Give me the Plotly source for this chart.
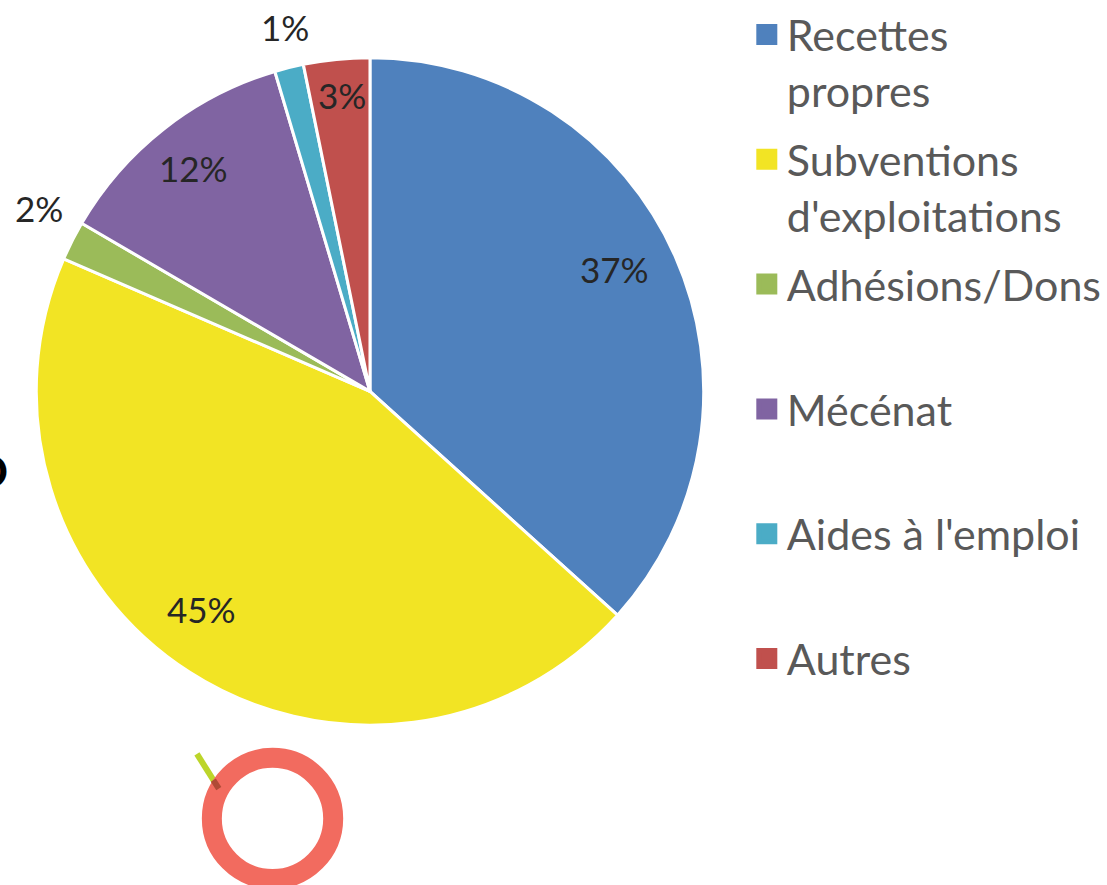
import math
import plotly.graph_objects as go

labels = ["Recettes propres", "Subventions d'exploitations", "Adhésions/Dons",
          "Mécénat", "Aides à l'emploi", "Autres"]
legend_labels = ["Recettes<br>propres", "Subventions<br>d'exploitations",
                 "Adhésions/Dons<br> ", "Mécénat<br> ", "Aides à l'emploi<br> ", "Autres<br> "]
values = [36.7, 44.8, 1.9, 12.0, 1.4, 3.2]
colors = ["#4F81BD", "#F2E424", "#9BBB59", "#8064A2", "#4BACC6", "#C0504D"]
# label placement (style): radius fraction and small angular nudge in degrees
label_radius = [0.81, 0.84, 1.124, 0.836, 1.10, 0.87]
label_nudge = [-1.3, 4.0, 1.3, -0.9, 0.6, 0.3]

W, H = 1107, 885
cx, cy, r = 372, 388, 336

fig = go.Figure()
fig.add_trace(go.Pie(
    labels=labels, values=values, sort=False, direction="clockwise", rotation=0,
    marker=dict(colors=colors, line=dict(color="white", width=3)),
    textinfo="none", showlegend=False, hoverinfo="label+percent",
    domain=dict(x=[(cx - r) / W, (cx + r) / W], y=[(H - cy - r) / H, (H - cy + r) / H]),
))
for lab, col in zip(legend_labels, colors):
    fig.add_trace(go.Scatter(
        x=[None], y=[None], mode="markers", name=lab, legendgroup=lab,
        marker=dict(symbol="square", size=16, color=col, line=dict(color=col, width=5)),
    ))

# percent labels placed along each slice's bisector
total = sum(values)
cum = 0.0
for v, f, nd in zip(values, label_radius, label_nudge):
    mid = (cum + v / 2) / total
    cum += v
    a = 2 * math.pi * mid + math.radians(nd)
    px = cx + f * r * math.sin(a)
    py = cy - f * r * math.cos(a)
    fig.add_annotation(text=f"{round(100 * v / total)}%", xref="paper", yref="paper",
                       x=px / W, y=1 - py / H, xanchor="center", yanchor="middle",
                       yshift=7, showarrow=False,
                       font=dict(family="Lato", size=35, color="#262626"))

# decorative ring and stick
ring_r = 61
rcx, rcy = 274, 818
fig.add_shape(type="line", xref="paper", yref="paper",
              x0=198 / W, y0=(H - 753) / H, x1=220 / W, y1=(H - 788) / H,
              line=dict(color="#BCD52A", width=6))
fig.add_shape(type="circle", xref="paper", yref="paper",
              x0=(rcx - ring_r) / W, x1=(rcx + ring_r) / W,
              y0=(H - rcy - ring_r) / H, y1=(H - rcy + ring_r) / H,
              line=dict(color="#F26B5F", width=20))
fig.add_shape(type="line", xref="paper", yref="paper",
              x0=214.5 / W, y0=(H - 779.5) / H, x1=220 / W, y1=(H - 788) / H,
              line=dict(color="#B04A36", width=6))
fig.add_annotation(text="O", xref="paper", yref="paper", x=10 / W, y=(H - 468) / H,
                   xanchor="right", yanchor="middle", showarrow=False,
                   font=dict(family="Lato", size=46, color="black", weight="bold"))

fig.update_layout(
    width=W, height=H, margin=dict(l=0, r=0, t=0, b=0),
    paper_bgcolor="white", plot_bgcolor="white",
    xaxis=dict(visible=False), yaxis=dict(visible=False),
    showlegend=True,
    legend=dict(x=0.6783, y=1 + 6 / H, xanchor="left", yanchor="top", valign="top",
                maxheight=1000,
                tracegroupgap=10, font=dict(family="Lato", size=43, color="#595959"),
                bgcolor="rgba(0,0,0,0)"),
)
fig.write_html("out.html", config={"displayModeBar": False},
               post_script="document.body.style.margin='0';")
